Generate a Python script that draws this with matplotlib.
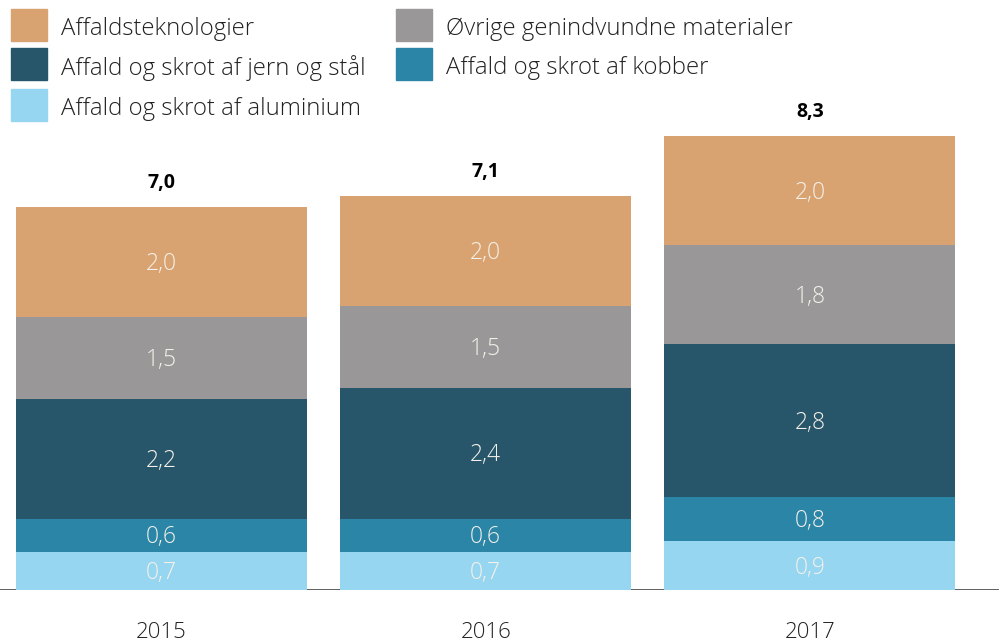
import matplotlib
matplotlib.use("Agg")
import matplotlib.pyplot as plt
from matplotlib.patches import Rectangle

years = ["2015", "2016", "2017"]
series_names = [
    "Affald og skrot af aluminium",
    "Affald og skrot af kobber",
    "Affald og skrot af jern og stål",
    "Øvrige genindvundne materialer",
    "Affaldsteknologier",
]
aluminium = [0.7, 0.7, 0.9]
kobber = [0.6, 0.6, 0.8]
jern_staal = [2.2, 2.4, 2.8]
oevrige = [1.5, 1.5, 1.8]
affaldsteknologier = [2.0, 2.0, 2.0]
totals = [7.0, 7.1, 8.3]

colors = ["#97D6F0", "#2A85A6", "#27566A", "#9A9799", "#D9A371"]

series = [aluminium, kobber, jern_staal, oevrige, affaldsteknologier]

plt.rcParams['font.family'] = ['Open Sans', 'DejaVu Sans']

W, H = 999, 643
fig = plt.figure(figsize=(W / 100, H / 100), dpi=100)
ax = fig.add_axes([0, 53 / H, 1, 590 / H])
ax.set_xlim(-0.498, 2.583)
ax.set_ylim(0, 590 / 54.7)
ax.axis("off")

x = list(range(len(years)))
bottoms = [0.0] * len(years)
for vals, col in zip(series, colors):
    ax.bar(x, vals, width=0.8975, bottom=bottoms, color=col, zorder=2)
    for i, v in enumerate(vals):
        ax.text(x[i], bottoms[i] + v / 2 - 0.04, f"{v:.1f}".replace(".", ","),
                ha="center", va="center", color="#F4F1EA", fontsize=16.5,
                fontweight="light", zorder=3)
    bottoms = [b + v for b, v in zip(bottoms, vals)]

for i, t in enumerate(totals):
    ax.text(x[i], bottoms[i] + 0.25, f"{t:.1f}".replace(".", ","),
            ha="center", va="bottom", color="#000000", fontsize=14,
            fontweight="bold", zorder=3)

ax.axhline(0, color="#444444", lw=1.2, zorder=1)

for i, yl in enumerate(years):
    ax.text(x[i], -0.77, yl, ha="center", va="center", color="#222222",
            fontsize=16, fontweight="light", clip_on=False)

# Legend (manual layout)
legend_pos = [
    (11, 89, 0),   # aluminium
    (396, 48, 1),  # kobber
    (11, 48, 2),   # jern og stål
    (396, 9, 3),   # øvrige
    (11, 9, 4),    # affaldsteknologier
]
for px, py, idx in legend_pos:
    fig.patches.append(Rectangle((px / W, 1 - (py + 32) / H), 36 / W, 32 / H,
                                 transform=fig.transFigure, color=colors[idx]))
    fig.text((px + 50) / W, 1 - (py + 20) / H, series_names[idx],
             ha="left", va="center", fontsize=17.2, fontweight="light",
             color="#222222")

fig.savefig("out.png", dpi=100)
